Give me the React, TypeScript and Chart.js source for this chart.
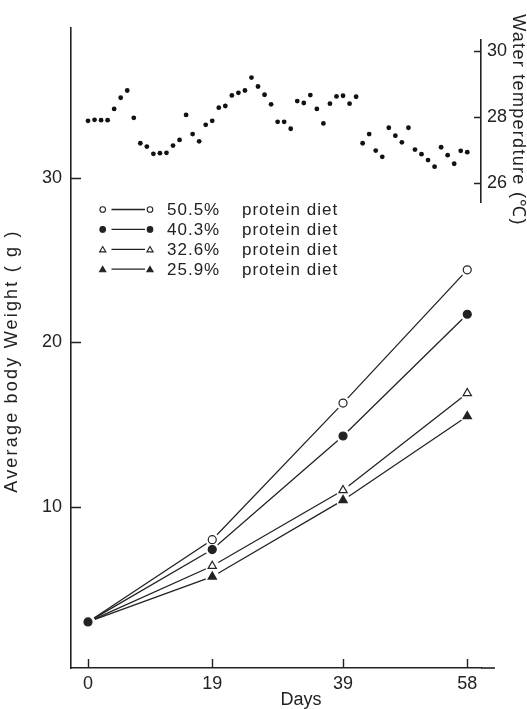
import React, { useEffect, useRef } from 'react';
import { Chart, registerables } from 'chart.js';

Chart.register(...registerables);

// ---- data ----
const DAYS = [0, 19, 39, 58];
const X_TICKS = [0, 19, 39, 58];
const Y_TICKS = [10, 20, 30];
const TEMP_TICKS = [26, 27, 28, 29, 30];
const TEMP_LABELED = [26, 28, 30];

const DIETS = ['50.5%', '40.3%', '32.6%', '25.9%'];
const DIET_SUFFIX = 'protein diet';
const W_505 = [3.0, 8.0, 16.3, 24.4];
const W_403 = [3.0, 7.4, 14.3, 21.7];
const W_326 = [3.0, 6.4, 11.0, 16.9];
const W_259 = [3.0, 5.75, 10.4, 15.5];

// daily water temperature, day 0 .. 58
const TEMP = [
  27.88, 27.91, 27.9, 27.9, 28.24, 28.58, 28.8, 27.97, 27.2, 27.1,
  26.88, 26.9, 26.91, 27.13, 27.3, 28.06, 27.48, 27.26, 27.76, 27.88,
  28.28, 28.33, 28.65, 28.73, 28.8, 29.19, 28.92, 28.67, 28.38, 27.85,
  27.85, 27.64, 28.48, 28.42, 28.66, 28.24, 27.8, 28.4, 28.62, 28.64,
  28.4, 28.61, 27.2, 27.48, 26.98, 26.79, 27.67, 27.43, 27.23, 27.67,
  27.01, 26.87, 26.69, 26.49, 27.08, 26.84, 26.58, 26.97, 26.93,
];

const X_TITLE = 'Days';
const Y_TITLE = 'Average body Weight ( g )';
const T_TITLE = 'Water temperdture (℃)';

const INK = '#222';
const TICK_FONT = "'Liberation Sans', Arial, sans-serif";
const TEXT_FONT = "'Liberation Sans', Arial, sans-serif";

const SERIES = [
  { label: DIETS[0], values: W_505, style: 'circle', filled: false, r: 4, showStart: false },
  { label: DIETS[1], values: W_403, style: 'circle', filled: true, r: 4, showStart: true },
  { label: DIETS[2], values: W_326, style: 'triangle', filled: false, r: 4.8, showStart: false },
  { label: DIETS[3], values: W_259, style: 'triangle', filled: true, r: 4.8, showStart: false },
];

function drawMarker(ctx: CanvasRenderingContext2D, style: string, filled: boolean, x: number, y: number, r: number) {
  ctx.beginPath();
  if (style === 'circle') {
    ctx.arc(x, y, r, 0, Math.PI * 2);
  } else {
    const h = Math.PI * 2 / 3;
    let a = 0;
    ctx.moveTo(x + Math.sin(a) * r, y - Math.cos(a) * r);
    a += h;
    ctx.lineTo(x + Math.sin(a) * r, y - Math.cos(a) * r);
    a += h;
    ctx.lineTo(x + Math.sin(a) * r, y - Math.cos(a) * r);
    ctx.closePath();
  }
  ctx.fillStyle = filled ? INK : '#fff';
  ctx.fill();
  ctx.lineWidth = 1.1;
  ctx.strokeStyle = INK;
  ctx.stroke();
}

const overlayPlugin = {
  id: 'overlay',
  afterDraw(chart: any) {
    const { ctx, chartArea } = chart;
    const { x: xs, y: ys, yT } = chart.scales;
    ctx.save();

    // inward tick marks
    ctx.strokeStyle = INK;
    ctx.lineWidth = 1.4;
    ctx.beginPath();
    xs.ticks.forEach((t: any) => {
      const px = Math.round(xs.getPixelForValue(t.value)) + 0.5;
      ctx.moveTo(px, chartArea.bottom);
      ctx.lineTo(px, chartArea.bottom - 9);
    });
    ys.ticks.forEach((t: any) => {
      const py = Math.round(ys.getPixelForValue(t.value)) + 0.5;
      ctx.moveTo(chartArea.left, py);
      ctx.lineTo(chartArea.left + 10, py);
    });
    yT.ticks.forEach((t: any) => {
      const py = Math.round(yT.getPixelForValue(t.value)) + 0.5;
      ctx.moveTo(yT.left, py);
      ctx.lineTo(yT.left - 7, py);
    });
    ctx.stroke();

    // x axis line runs a little past the temperature axis
    ctx.beginPath();
    ctx.lineWidth = 1.6;
    ctx.moveTo(chartArea.right, chartArea.bottom);
    ctx.lineTo(chartArea.right + 14, chartArea.bottom);
    ctx.stroke();

    ctx.fillStyle = INK;
    ctx.textAlign = 'center';
    ctx.textBaseline = 'middle';

    // left axis title
    ctx.save();
    ctx.font = `18px ${TEXT_FONT}`;
    (ctx as any).letterSpacing = '2.2px';
    ctx.translate(12, (chartArea.top + chartArea.bottom) / 2 + 13);
    ctx.rotate(-Math.PI / 2);
    ctx.fillText(Y_TITLE, 0, 0);
    ctx.restore();

    // right axis title
    ctx.save();
    ctx.font = `18px ${TEXT_FONT}`;
    (ctx as any).letterSpacing = '1.3px';
    ctx.translate(chart.width - 9, (yT.top + yT.bottom) / 2 - 1);
    ctx.rotate(Math.PI / 2);
    ctx.fillText(T_TITLE, 0, 0);
    ctx.restore();

    // x axis title
    ctx.save();
    ctx.font = `18px ${TEXT_FONT}`;
    ctx.fillText(X_TITLE, (chartArea.left + chartArea.right) / 2 + 25, 700);
    ctx.restore();

    // legend
    ctx.save();
    ctx.font = `17px ${TEXT_FONT}`;
    (ctx as any).letterSpacing = '1px';
    ctx.textAlign = 'left';
    SERIES.forEach((s, i) => {
      const y = 209.5 + i * 19.9;
      ctx.beginPath();
      ctx.moveTo(111.5, y);
      ctx.lineTo(145, y);
      ctx.lineWidth = 1.3;
      ctx.strokeStyle = INK;
      ctx.stroke();
      const mr = s.style === 'circle' ? 2.8 : 3.6;
      drawMarker(ctx, s.style, s.filled, 102.7, y + (s.style === 'circle' ? 0 : 0.8), mr);
      drawMarker(ctx, s.style, s.filled, 150, y + (s.style === 'circle' ? 0 : 0.8), mr);
      ctx.fillStyle = INK;
      ctx.fillText(s.label, 167, y + 1);
      ctx.fillText(DIET_SUFFIX, 242, y + 1);
    });
    ctx.restore();

    ctx.restore();
  },
};

export default function App() {
  const ref = useRef<HTMLCanvasElement | null>(null);

  useEffect(() => {
    document.body.style.margin = '0';
    const canvas = ref.current;
    if (!canvas) return;

    const xy = (values: number[]) => DAYS.map((d, i) => ({ x: d, y: values[i] }));

    const lineSets = SERIES.map((s) => ({
      type: 'line',
      label: s.label + ' ' + DIET_SUFFIX,
      data: xy(s.values),
      xAxisID: 'x',
      yAxisID: 'y',
      borderColor: INK,
      borderWidth: 1.3,
      pointRadius: 0,
      fill: false,
      tension: 0,
      order: 30,
    }));

    const haloSets = SERIES.map((s) => ({
      type: 'line',
      label: s.label + ' halo',
      data: xy(s.values),
      xAxisID: 'x',
      yAxisID: 'y',
      showLine: false,
      pointRadius: 7,
      pointBackgroundColor: '#fff',
      pointBorderWidth: 0,
      pointBorderColor: '#fff',
      order: 20,
    }));

    const markerSets = SERIES.map((s) => ({
      type: 'line',
      label: s.label + ' markers',
      data: xy(s.values),
      xAxisID: 'x',
      yAxisID: 'y',
      showLine: false,
      pointStyle: s.style,
      pointRadius: (c: any) => (c.dataIndex === 0 && !s.showStart ? 0 : s.r),
      pointBackgroundColor: s.filled ? INK : '#fff',
      pointBorderColor: INK,
      pointBorderWidth: 1.2,
      order: 10,
    }));

    const tempSet = {
      type: 'line',
      label: 'Water temperature',
      data: TEMP.map((t, i) => ({ x: i, y: t })),
      xAxisID: 'x',
      yAxisID: 'yT',
      showLine: false,
      pointRadius: 2.4,
      pointBackgroundColor: '#111',
      pointBorderColor: '#111',
      pointBorderWidth: 0,
      order: 5,
    };

    const tickFont = { family: TICK_FONT, size: 18 };
    const noGrid = { display: false, drawOnChartArea: false, drawTicks: false, tickLength: 0 };

    const chart = new Chart(canvas, {
      type: 'line',
      data: { datasets: [...lineSets, ...haloSets, ...markerSets, tempSet] as any },
      options: {
        responsive: false,
        animation: false,
        devicePixelRatio: 1,
        layout: { padding: { top: 28, left: 0, right: 0, bottom: 0 } },
        plugins: { legend: { display: false }, tooltip: { enabled: false } },
        scales: {
          x: {
            type: 'linear',
            position: 'bottom',
            min: -2.6,
            max: 60.1,
            afterBuildTicks: (s: any) => {
              s.ticks = X_TICKS.map((v) => ({ value: v }));
            },
            afterFit: (s: any) => {
              s.height = 41;
            },
            grid: noGrid,
            border: { display: true, color: INK, width: 1.6 },
            ticks: { padding: 5, color: INK, font: tickFont, autoSkip: false, maxRotation: 0 },
          },
          y: {
            type: 'linear',
            position: 'left',
            min: 0.2,
            max: 39.1,
            afterBuildTicks: (s: any) => {
              s.ticks = Y_TICKS.map((v) => ({ value: v }));
            },
            afterFit: (s: any) => {
              s.width = 71;
            },
            grid: noGrid,
            border: { display: true, color: INK, width: 1.6 },
            ticks: { padding: 9, color: INK, font: tickFont },
          },
          yTop: {
            type: 'linear',
            position: 'right',
            stack: 'right',
            stackWeight: 12,
            afterFit: (s: any) => {
              s.width = 46;
            },
            grid: { display: false },
            border: { display: false },
            ticks: { display: false },
          },
          yT: {
            type: 'linear',
            position: 'right',
            stack: 'right',
            stackWeight: 162,
            min: 25.42,
            max: 30.33,
            afterBuildTicks: (s: any) => {
              s.ticks = TEMP_TICKS.map((v) => ({ value: v }));
            },
            afterFit: (s: any) => {
              s.width = 46;
            },
            grid: noGrid,
            border: { display: true, color: INK, width: 1.6 },
            ticks: {
              padding: 6,
              color: INK,
              font: tickFont,
              callback: (v: any) => (TEMP_LABELED.includes(Number(v)) ? String(v) : ''),
            },
          },
          yBot: {
            type: 'linear',
            position: 'right',
            stack: 'right',
            stackWeight: 466,
            afterFit: (s: any) => {
              s.width = 46;
            },
            grid: { display: false },
            border: { display: false },
            ticks: { display: false },
          },
        },
      } as any,
      plugins: [overlayPlugin],
    });

    return () => chart.destroy();
  }, []);

  return (
    <div style={{ width: 527, height: 709, background: '#fff' }}>
      <canvas ref={ref} width={527} height={709} style={{ display: 'block' }} />
    </div>
  );
}
